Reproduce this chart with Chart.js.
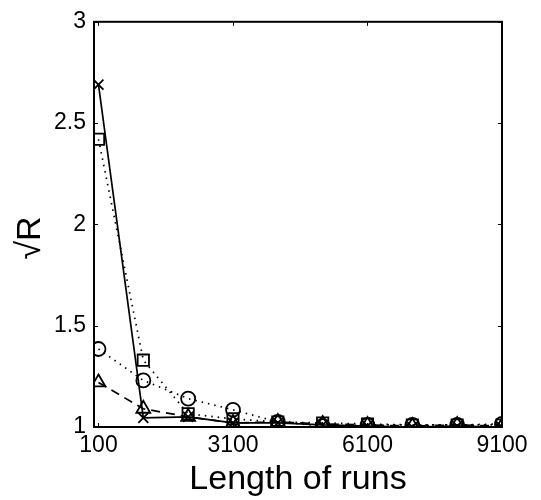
<!DOCTYPE html>
<html>
<head>
<meta charset="utf-8">
<script src="https://cdn.jsdelivr.net/npm/chart.js@4.4.0/dist/chart.umd.min.js"></script>
<style>
html,body{margin:0;padding:0;background:#fff;}
canvas{display:block;}
</style>
</head>
<body>
<canvas id="c" width="541" height="500" style="width:541px;height:500px"></canvas>
<script>
const runLengths = [100, 1100, 2100, 3100, 4100, 5100, 6100, 7100, 8100, 9100];
const seriesCross    = [2.69, 1.045, 1.05, 1.02, 1.02, 1.01, 1.005, 1.0, 1.005, 1.0];
const seriesSquare   = [2.42, 1.33, 1.065, 1.04, 1.025, 1.02, 1.015, 1.01, 1.01, 1.01];
const seriesCircle   = [1.385, 1.23, 1.14, 1.085, 1.025, 1.005, 1.01, 1.01, 1.01, 1.015];
const seriesTriangle = [1.22, 1.09, 1.05, 1.02, 1.025, 1.015, 1.01, 1.005, 1.01, 1.005];
const xTickValues = [100, 3100, 6100, 9100];
const yTickValues = [1, 1.5, 2, 2.5, 3];

const FONT = "'Liberation Sans', Arial, sans-serif";
const toPts = arr => arr.map((v, i) => ({x: runLengths[i], y: v}));

const frameAndTicks = {
  id: 'frameAndTicks',
  afterDraw(chart) {
    const {ctx, chartArea: a, scales} = chart;
    ctx.save();
    ctx.strokeStyle = '#000';
    ctx.lineWidth = 1;
    ctx.beginPath();
    xTickValues.forEach(v => {
      const px = Math.round(scales.x.getPixelForValue(v)) + 0.5;
      ctx.moveTo(px, a.bottom); ctx.lineTo(px, a.bottom - 4);
      ctx.moveTo(px, a.top); ctx.lineTo(px, a.top + 4);
    });
    yTickValues.forEach(v => {
      const py = Math.round(scales.y.getPixelForValue(v)) + 0.5;
      ctx.moveTo(a.left, py); ctx.lineTo(a.left + 4, py);
      ctx.moveTo(a.right, py); ctx.lineTo(a.right - 4, py);
    });
    ctx.stroke();
    ctx.lineWidth = 2;
    ctx.strokeRect(a.left, a.top, a.right - a.left, a.bottom - a.top);
    // y-axis title
    ctx.fillStyle = '#000';
    ctx.font = "34px " + FONT;
    ctx.textAlign = 'center';
    ctx.textBaseline = 'middle';
    ctx.translate(31, 238);
    ctx.rotate(-Math.PI / 2);
    ctx.fillText('\u221AR', 0, 0);
    ctx.restore();
  }
};

const common = {
  borderColor: '#000',
  backgroundColor: 'rgba(0,0,0,0)',
  pointBorderColor: '#000',
  pointBackgroundColor: 'rgba(0,0,0,0)',
  pointBorderWidth: 1.8,
  borderWidth: 1.7,
  tension: 0,
  fill: false
};

new Chart(document.getElementById('c'), {
  type: 'line',
  data: {
    datasets: [
      Object.assign({}, common, {label: 'square', data: toPts(seriesSquare), pointStyle: 'rect', pointRadius: 8, borderDash: [1.5, 5]}),
      Object.assign({}, common, {label: 'circle', data: toPts(seriesCircle), pointStyle: 'circle', pointRadius: 7, borderDash: [1.5, 5]}),
      Object.assign({}, common, {label: 'triangle', data: toPts(seriesTriangle), pointStyle: 'triangle', pointRadius: 8, borderDash: [9, 6]}),
      Object.assign({}, common, {label: 'cross', data: toPts(seriesCross), pointStyle: 'crossRot', pointRadius: 7})
    ]
  },
  options: {
    responsive: false,
    animation: false,
    layout: {padding: {left: 0, right: 39, top: 17, bottom: 0}},
    plugins: {legend: {display: false}, tooltip: {enabled: false}},
    scales: {
      x: {
        type: 'linear', min: 0, max: 9100,
        afterBuildTicks: s => { s.ticks = xTickValues.map(v => ({value: v})); },
        ticks: {font: {family: FONT, size: 23}, color: '#000', padding: 5, maxRotation: 0, autoSkip: false,
                callback: v => String(v)},
        grid: {display: false, drawTicks: false},
        border: {display: false},
        title: {display: true, text: 'Length of runs', font: {family: FONT, size: 34}, color: '#000', padding: {top: -14, bottom: 0}},
        afterFit: s => { s.height = 73; }
      },
      y: {
        type: 'linear', min: 1, max: 3,
        afterBuildTicks: s => { s.ticks = yTickValues.map(v => ({value: v})); },
        ticks: {font: {family: FONT, size: 23}, color: '#000', padding: 8, autoSkip: false,
                callback: v => String(v)},
        grid: {display: false, drawTicks: false},
        border: {display: false},
        afterFit: s => { s.width = 94; }
      }
    }
  },
  plugins: [frameAndTicks]
});
</script>
</body>
</html>
